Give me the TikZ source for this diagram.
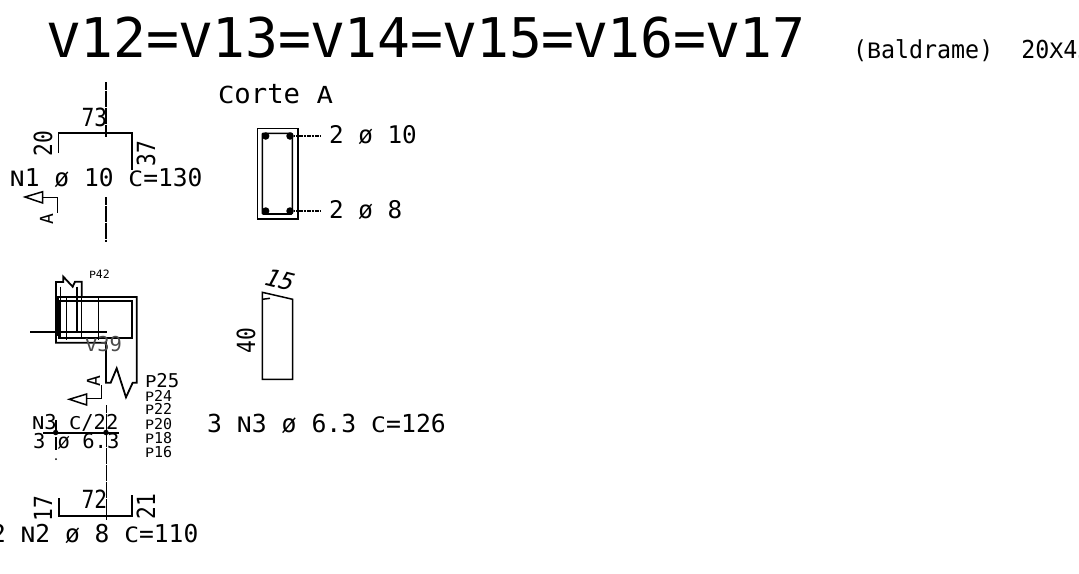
\documentclass[tikz,border=0pt]{standalone}
\usepackage{fontspec}
\usepackage{graphicx}
\setmainfont{DejaVu Sans Mono}
\newcommand{\fs}[1]{\fontsize{#1}{#1}\selectfont}
\newcommand{\cp}[1]{\makebox[0.602em]{\scalebox{1}[0.86]{#1}}}
\tikzset{
  lbl/.style={inner sep=0pt,outer sep=0pt,anchor=base west,text=black},
  rot/.style={lbl,rotate=90},
  narrow/.style={xscale=0.85,transform shape},
  bar/.style={line width=1.8pt,draw=black},
  thin/.style={line width=1.5pt,draw=black},
  axis/.style={line width=1.5pt,draw=black,dash pattern=on 8pt off 0.5pt},
  dotn/.style={circle,fill=black,inner sep=0pt,minimum size=7.5pt},
  leader/.style={line width=1.3pt,draw=black,dash pattern=on 1.2pt off 0.4pt}
}
\begin{document}
\begin{tikzpicture}[x=1pt,y=-1pt]
\useasboundingbox (0,0) rectangle (1079,573);
\begin{scope}
\clip (0,0) rectangle (1079,573);
% titles
\node[lbl,font=\fs{54.7}] (title) at (48,57.5) {\cp{V}12=\cp{V}13=\cp{V}14=\cp{V}15=\cp{V}16=\cp{V}17};
\node[lbl,font=\fs{23.3},yscale=1.06,transform shape] (sub) at (853,58) {(\cp{B}aldrame)\ \ 20\cp{X}45};
\node[lbl,font=\fs{27.3}] (corte) at (218,103) {\cp{C}orte \cp{A}};
% top elevation
\draw[axis] (106,82) -- (106,137);
\draw[axis] (106,197) -- (106,242);
\draw[bar] (58.5,153) -- (58.5,133) -- (132,133) -- (132,170);
\node[lbl,narrow,font=\fs{25}] (t73) at (81.5,126.5) {73};
\node[rot,narrow,font=\fs{25}] (t20) at (52,156.5) {20};
\node[rot,narrow,font=\fs{25}] (t37) at (155,166) {37};
\node[lbl,font=\fs{24.6}] (n1) at (10,186.5) {\cp{N}1 ø 10 \cp{C}=130};
\draw[thin] (25,197) -- (42.7,191.7) -- (42.7,203) -- cycle;
\draw[thin] (42.7,197.5) -- (57.5,197.5) -- (57.5,213);
\node[rot,font=\fs{18}] (a1) at (53,224) {A};
% section
\draw[line width=1.6pt] (257.3,128.3) rectangle (297.7,219);
\draw[line width=1.6pt,rounded corners=1pt] (262.3,133.3) rectangle (292.3,214);
\node[dotn] (d1) at (265.7,136) {};
\node[dotn] (d2) at (290,136) {};
\node[dotn] (d3) at (265.7,211) {};
\node[dotn] (d4) at (290,211) {};
\coordinate (l1) at (321,136);
\coordinate (l2) at (321,211);
\draw[leader] (d2) -- (l1);
\draw[leader] (d4) -- (l2);
\node[lbl,font=\fs{24.3}] (s1) at (329,143) {2 ø 10};
\node[lbl,font=\fs{24.3}] (s2) at (329,218.5) {2 ø 8};
% plan
\node[lbl,font=\fs{11.5}] (p42) at (89,278) {\cp{P}42};
\draw[bar] (56,297) -- (56,282) -- (63.3,282) -- (63.3,276.7) -- (72.7,286.7) -- (75,281.7) -- (81.7,281.7) -- (81.7,297);
\draw[bar] (56,297) -- (136.7,297) -- (136.7,382.7) -- (132.7,382.7) -- (126,397.3) -- (116.7,368.3) -- (110.7,382.7) -- (106,382.7) -- (106,342.7) -- (56,342.7) -- cycle;
\draw[bar] (59.3,301) rectangle (131.7,338.3);
\draw[line width=2.2pt] (58,297) -- (58,336);
\draw[thin] (60.3,286.7) -- (60.3,338);
\draw[thin] (66.7,298) -- (66.7,340);
\draw[line width=1.9pt] (77.3,286.7) -- (77.3,332);
\draw[thin] (81.7,297) -- (81.7,338);
\draw[thin] (98.3,298) -- (98.3,340);
\draw[bar] (30,331.7) -- (107.3,331.7);
\node[lbl,font=\fs{20.5},text=black!70] (v39) at (85,351) {\cp{V}39};
\node[lbl,font=\fs{19}] (p25) at (145,387) {\cp{P}25};
\node[lbl,font=\fs{15}] (p24) at (145,401) {\cp{P}24};
\node[lbl,font=\fs{15}] (p22) at (145,414.5) {\cp{P}22};
\node[lbl,font=\fs{15}] (p20) at (145,429) {\cp{P}20};
\node[lbl,font=\fs{15}] (p18) at (145,443) {\cp{P}18};
\node[lbl,font=\fs{15}] (p16) at (145,457) {\cp{P}16};
\node[rot,font=\fs{18}] (a2) at (100,386) {A};
\draw[thin] (101.7,385) -- (101.7,398.3) -- (86.7,398.3);
\draw[thin] (69.3,399.3) -- (86.7,394) -- (86.7,405) -- cycle;
% stirrups
\draw[axis] (106.3,405) -- (106.3,520);
\draw[line width=2.1pt] (43,432.7) -- (119,432.7);
\draw[thin] (56,420) -- (56,432.7);
\draw[thin] (56,437) -- (56,450);
\node[circle,fill=black,inner sep=0pt,minimum size=5.5pt] (e1) at (55.7,432.5) {};
\node[circle,fill=black,inner sep=0pt,minimum size=5.5pt] (e2) at (106,432.5) {};
\node[circle,fill=black,inner sep=0pt,minimum size=2pt] (e3) at (56,459) {};
\node[lbl,font=\fs{20.5}] (n3) at (32,429) {\cp{N}3 \cp{C}/22};
\node[lbl,font=\fs{20.5}] (n3b) at (33,448) {3 ø 6.3};
\node[lbl,font=\fs{24.8}] (n3c) at (207,432) {3 \cp{N}3 ø 6.3 \cp{C}=126};
% bottom bar
\draw[bar] (58.7,498.3) -- (58.7,516) -- (131.7,516) -- (131.7,495);
\node[lbl,narrow,font=\fs{25}] (t72) at (81.5,508.5) {72};
\node[rot,narrow,font=\fs{25}] (t17) at (52,521) {17};
\node[rot,narrow,font=\fs{25}] (t21) at (155,519) {21};
\node[lbl,font=\fs{24.6}] (n2) at (-9,542.5) {2 \cp{N}2 ø 8 \cp{C}=110};
% stirrup shape
\draw[thin] (262.3,292.3) -- (292.7,299.3) -- (292.7,379.3) -- (262.3,379.3) -- cycle;
\draw[thin] (262.3,299.3) -- (270,298.3);
\node[rot,narrow,font=\fs{25}] (t40) at (255,353.5) {40};
\node[font=\fs{24},inner sep=0pt,rotate=-14,xslant=0.25,transform shape] (t15) at (280,280) {15};
\end{scope}
\end{tikzpicture}
\end{document}
